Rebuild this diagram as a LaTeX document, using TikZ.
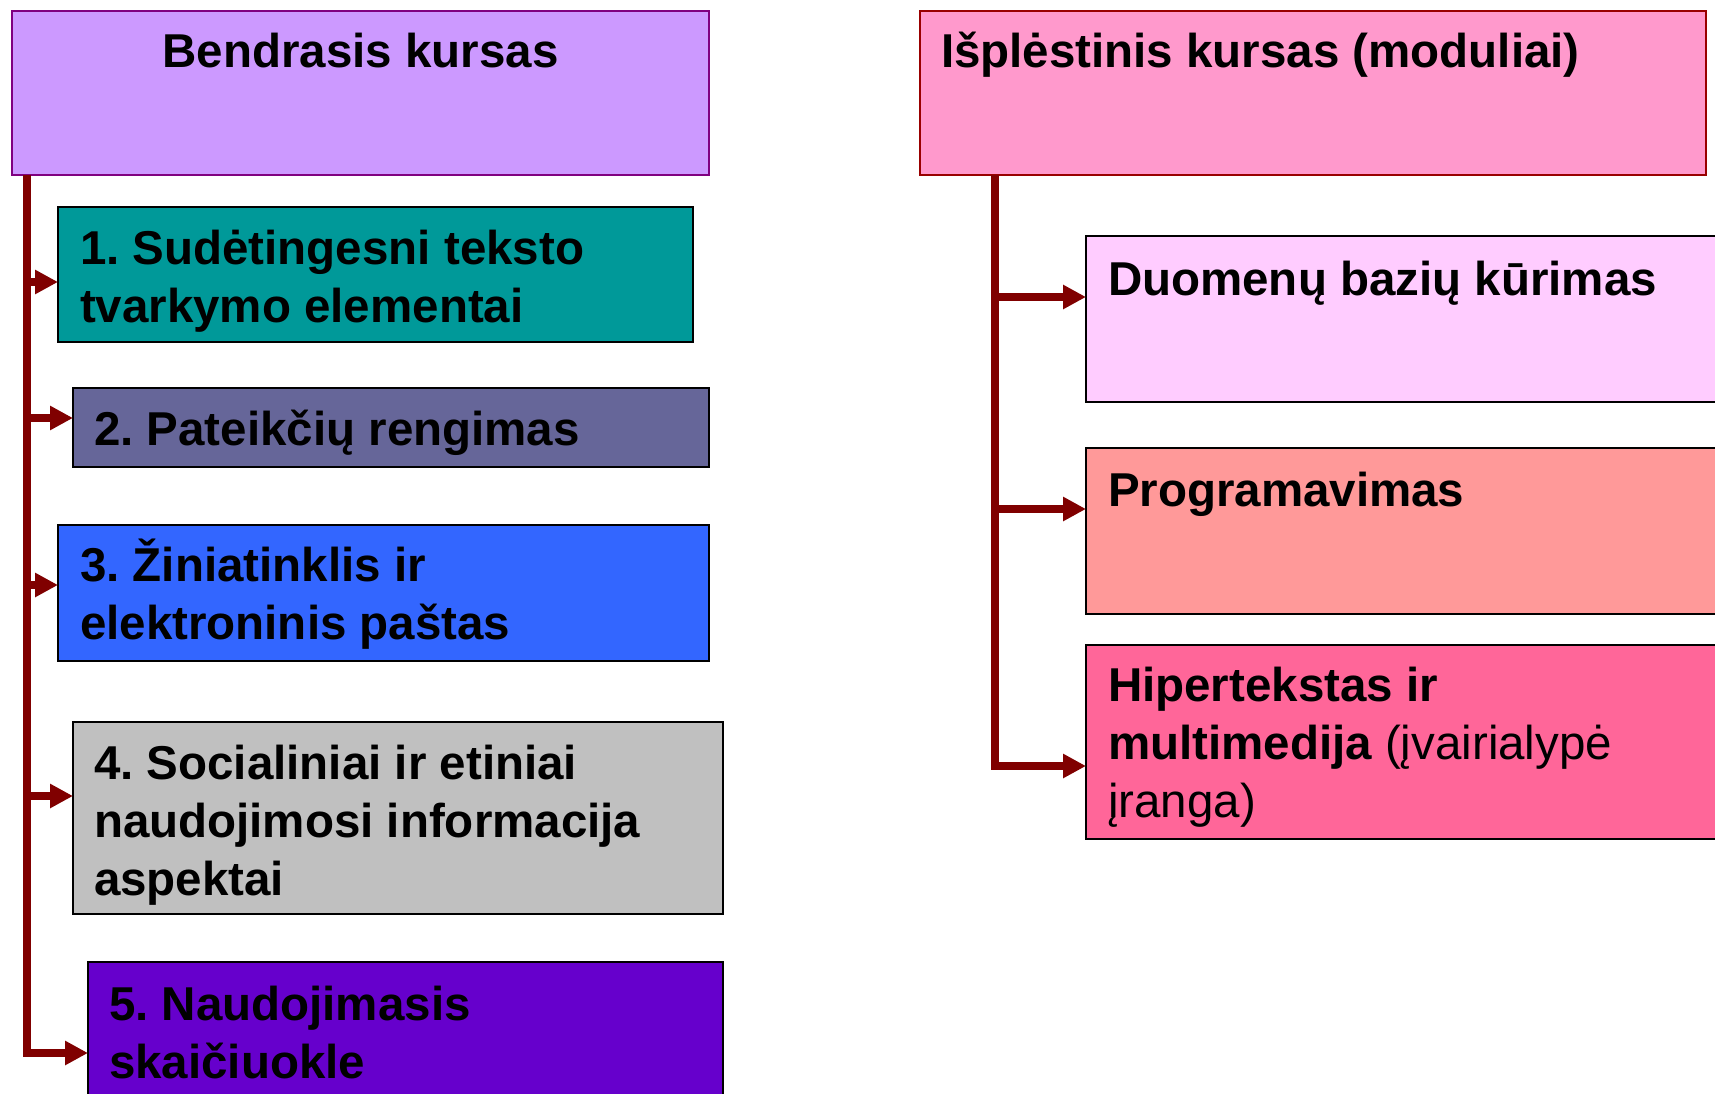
\documentclass[tikz,border=0pt]{standalone}
\usepackage{fontspec}
\setmainfont{Liberation Sans}
\usetikzlibrary{arrows.meta}
\definecolor{bendfill}{HTML}{CC99FF}
\definecolor{bendline}{HTML}{800080}
\definecolor{cone}{HTML}{009999}
\definecolor{ctwo}{HTML}{666699}
\definecolor{cthree}{HTML}{3366FF}
\definecolor{cfour}{HTML}{C0C0C0}
\definecolor{cfive}{HTML}{6600CC}
\definecolor{ispfill}{HTML}{FF99CC}
\definecolor{ispline}{HTML}{990000}
\definecolor{duom}{HTML}{FFCCFF}
\definecolor{prog}{HTML}{FF9999}
\definecolor{hiper}{HTML}{FF6699}
\definecolor{trunk}{HTML}{800000}
\newcommand\firststrut{\rule{0pt}{50pt}}
\frenchspacing
\begin{document}
\begin{tikzpicture}[x=1pt,y=-1pt,
  box/.style={draw=black, line width=2pt, anchor=north west, inner sep=0pt, outer sep=0pt},
  lbl/.style={anchor=north west, inner sep=0pt, outer sep=0pt, align=left,
    font=\fontsize{47.5}{58}\selectfont\bfseries},
  conn/.style={draw=trunk, line width=8pt, -{Triangle[length=23pt,width=23pt]}},
  trunkline/.style={draw=trunk, line width=8pt}]
\useasboundingbox (0,0) rectangle (1715,1094);
\clip (0,0) rectangle (1715,1094);
% left column
\node[box, draw=bendline, fill=bendfill, minimum width=697pt, minimum height=164pt] (bend) at (12,11) {};
\node[anchor=base, inner sep=0pt, font=\fontsize{47.5}{58}\selectfont\bfseries] (bendt) at (360.5,68) {Bendrasis kursas};
\node[box, fill=cone, minimum width=635pt, minimum height=135pt] (b1) at (58,207) {};
\node[lbl] (b1t) at (80,214) {\firststrut 1. Sudėtingesni teksto\\tvarkymo elementai};
\node[box, fill=ctwo, minimum width=636pt, minimum height=79pt] (b2) at (73,388) {};
\node[lbl] (b2t) at (94,395) {\firststrut 2. Pateikčių rengimas};
\node[box, fill=cthree, minimum width=651pt, minimum height=136pt] (b3) at (58,525) {};
\node[lbl] (b3t) at (80,531) {\firststrut 3. Žiniatinklis ir\\elektroninis paštas};
\node[box, fill=cfour, minimum width=650pt, minimum height=192pt] (b4) at (73,722) {};
\node[lbl] (b4t) at (94,729) {\firststrut 4. Socialiniai ir etiniai\\naudojimosi informacija\\aspektai};
\node[box, fill=cfive, minimum width=635pt, minimum height=200pt] (b5) at (88,962) {};
\node[lbl] (b5t) at (109,970) {\firststrut 5. Naudojimasis\\skaičiuokle};
% right column
\node[box, draw=ispline, fill=ispfill, minimum width=786pt, minimum height=164pt] (isp) at (920,11) {};
\node[lbl] (ispt) at (941,18) {\firststrut Išplėstinis kursas (moduliai)};
\node[box, fill=duom, minimum width=700pt, minimum height=166pt] (d) at (1086,236) {};
\node[lbl] (dt) at (1108,245) {\firststrut Duomenų bazių kūrimas};
\node[box, fill=prog, minimum width=700pt, minimum height=166pt] (p) at (1086,448) {};
\node[lbl] (pt) at (1108,456) {\firststrut Programavimas};
\node[box, fill=hiper, minimum width=700pt, minimum height=194pt] (h) at (1086,645) {};
\node[lbl] (ht) at (1108,651) {\firststrut Hipertekstas ir\\multimedija \mdseries(įvairialypė\\\mdseries įranga)};
% connectors
\coordinate (ltop) at (27,175);
\coordinate (e1) at (b1.west |- 0,282);
\coordinate (e2) at (b2.west |- 0,418);
\coordinate (e3) at (b3.west |- 0,585);
\coordinate (e4) at (b4.west |- 0,796);
\coordinate (e5) at (b5.west |- 0,1053);
\draw[conn] (ltop) |- (e5);
\draw[conn] (ltop |- e1) -- (e1);
\draw[conn] (ltop |- e2) -- (e2);
\draw[conn] (ltop |- e3) -- (e3);
\draw[conn] (ltop |- e4) -- (e4);
\coordinate (rtop) at (995,175);
\coordinate (f1) at (d.west |- 0,297);
\coordinate (f2) at (p.west |- 0,509);
\coordinate (f3) at (h.west |- 0,766);
\draw[conn] (rtop) |- (f3);
\draw[conn] (rtop |- f1) -- (f1);
\draw[conn] (rtop |- f2) -- (f2);
\end{tikzpicture}
\end{document}
